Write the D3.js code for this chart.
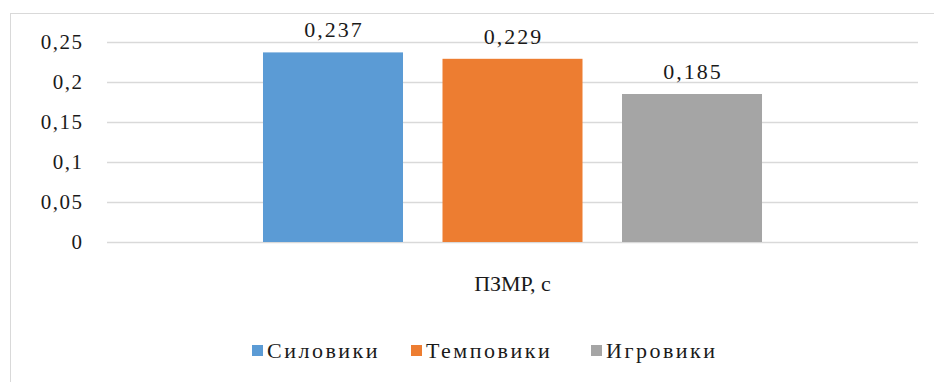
<!DOCTYPE html>
<html>
<head>
<meta charset="utf-8">
<script src="https://cdn.jsdelivr.net/npm/d3@7"></script>
<style>
  body { margin: 0; background: #fff; }
</style>
</head>
<body>
<script>
// chart values
var category = "ПЗМР, с";
var seriesNames = ["Силовики", "Темповики", "Игровики"];
var seriesValues = [0.237, 0.229, 0.185];
var seriesLabels = ["0,237", "0,229", "0,185"];
var colors = ["#5b9bd5", "#ed7d31", "#a5a5a5"];
var yTicks = [0, 0.05, 0.1, 0.15, 0.2, 0.25];
var yTickLabels = ["0", "0,05", "0,1", "0,15", "0,2", "0,25"];

var width = 934, height = 382;
var font = "'Liberation Serif', 'Times New Roman', 'DejaVu Serif', serif";

var svg = d3.select("body").append("svg")
    .attr("width", width)
    .attr("height", height)
    .style("font-family", font);

// chart frame
svg.append("rect")
    .attr("x", 10.5).attr("y", 13.5)
    .attr("width", 940).attr("height", 400)
    .attr("fill", "#fff")
    .attr("stroke", "#d9d9d9");

var plotLeft = 107, plotRight = 918;

var y = d3.scaleLinear().domain([0, 0.25]).range([242, 42]);

var x0 = d3.scaleBand().domain([category]).range([plotLeft, plotRight]).paddingInner(0).paddingOuter(0.3126);
var x1 = d3.scaleBand().domain(seriesNames).range([0, x0.bandwidth()]).paddingInner(0.22);

// gridlines + tick labels through axis
var yAxis = d3.axisLeft(y)
    .tickValues(yTicks)
    .tickSize(-(plotRight - plotLeft))
    .tickPadding(23.5)
    .tickFormat(function(d, i) { return yTickLabels[i]; });

var gAxis = svg.append("g")
    .attr("transform", "translate(" + plotLeft + ",0)")
    .call(yAxis);
gAxis.select(".domain").remove();
gAxis.selectAll(".tick line").attr("stroke", "#d9d9d9").attr("stroke-width", 1.3);
gAxis.selectAll(".tick text")
    .style("font-family", font)
    .style("font-size", "21px")
    .style("letter-spacing", "1.5px")
    .attr("fill", "#1a1a1a");

// bars
var gBars = svg.append("g").attr("transform", "translate(" + x0(category) + ",0)");
gBars.selectAll("rect")
    .data(seriesValues)
    .enter().append("rect")
    .attr("x", function(d, i) { return x1(seriesNames[i]); })
    .attr("y", function(d) { return y(d); })
    .attr("width", x1.bandwidth())
    .attr("height", function(d) { return y(0) - y(d); })
    .attr("fill", function(d, i) { return colors[i]; });

gBars.selectAll("text.val")
    .data(seriesValues)
    .enter().append("text")
    .attr("class", "val")
    .attr("x", function(d, i) { return x1(seriesNames[i]) + x1.bandwidth() / 2 + 1; })
    .attr("y", function(d) { return y(d) - 15; })
    .attr("text-anchor", "middle")
    .attr("fill", "#1a1a1a")
    .style("font-size", "22px")
    .style("letter-spacing", "2px")
    .text(function(d, i) { return seriesLabels[i]; });

// category label
svg.append("text")
    .attr("x", x0(category) + x0.bandwidth() / 2)
    .attr("y", 291)
    .attr("text-anchor", "middle")
    .attr("fill", "#1a1a1a")
    .style("font-size", "22px")
    .text(category);

// legend
var legendX = [252, 411, 591];
var items = svg.append("g").selectAll("g")
    .data(seriesNames)
    .enter().append("g")
    .attr("transform", function(d, i) { return "translate(" + legendX[i] + ",345)"; });
items.append("rect")
    .attr("width", 11).attr("height", 11)
    .attr("fill", function(d, i) { return colors[i]; });
items.append("text")
    .attr("x", 15).attr("y", 13)
    .attr("fill", "#1a1a1a")
    .style("font-size", "22px")
    .style("letter-spacing", "2.5px")
    .text(function(d) { return d; });
</script>
</body>
</html>
